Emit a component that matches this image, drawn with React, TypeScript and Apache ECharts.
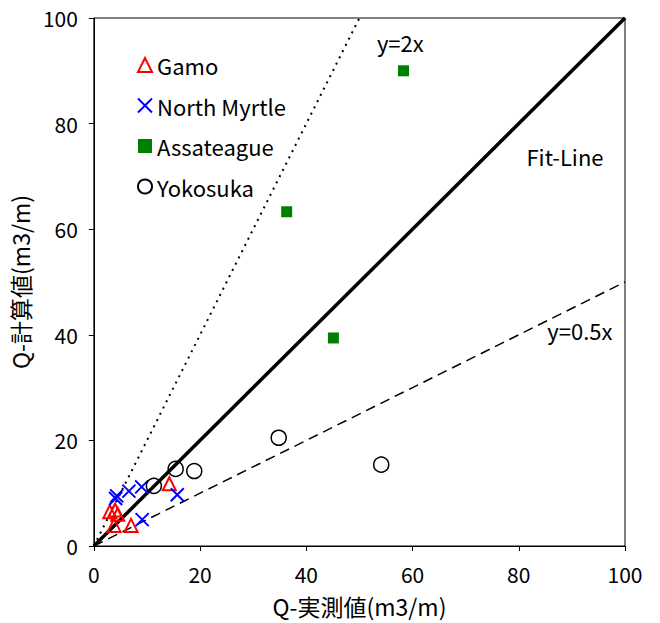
import React, { useEffect, useRef } from "react";
import * as echarts from "echarts";

const FONT = "'Noto Sans CJK JP', 'Noto Sans', sans-serif";

const gamo: number[][] = [
  [3.0, 6.5], [4.0, 6.8], [4.5, 6.0], [3.8, 3.9], [7.0, 3.9], [14.2, 11.8],
];
const northMyrtle: number[][] = [
  [4.1, 9.0], [4.3, 9.5], [6.6, 10.4], [9.0, 11.2], [15.7, 9.7], [9.1, 5.0],
];
const assateague: number[][] = [
  [58.3, 90.0], [36.3, 63.3], [45.1, 39.4],
];
const yokosuka: number[][] = [
  [34.8, 20.5], [54.1, 15.4], [15.4, 14.6], [18.9, 14.2], [11.3, 11.4],
];
const fitLine: number[][] = [[0, 0], [100, 100]];
const line2x: number[][] = [[0, 0], [50, 100]];
const lineHalf: number[][] = [[0, 0], [100, 50]];
const annotations: (number | string)[][] = [
  [57.7, 95.5, "y=2x"],
  [88.7, 73.8, "Fit-Line"],
  [91.5, 41, "y=0.5x"],
];
const axisTicks = { min: 0, max: 100, interval: 20 };

export default function App() {
  const ref = useRef<HTMLDivElement>(null);
  useEffect(() => {
    document.body.style.margin = "0";
    const chart = echarts.init(ref.current!, null, { renderer: "svg" });
    const axisCommon = {
      type: "value",
      min: axisTicks.min,
      max: axisTicks.max,
      interval: axisTicks.interval,
      nameLocation: "middle",
      nameTextStyle: { fontFamily: FONT, fontSize: 23, color: "#000", lineHeight: 24 },
      axisLine: { show: true, lineStyle: { color: "#000", width: 1 } },
      axisTick: { show: true, inside: false, length: 5, lineStyle: { color: "#000" } },
      axisLabel: { fontFamily: FONT, fontSize: 21, color: "#000", lineHeight: 22 },
      splitLine: { show: false },
    };
    chart.setOption({
      animation: false,
      backgroundColor: "#fff",
      grid: {
        left: 93, right: 35, top: 18, bottom: 74,
        show: true, borderColor: "#000", borderWidth: 1,
      },
      legend: {
        orient: "vertical",
        left: 132,
        top: 48,
        itemWidth: 14,
        itemHeight: 14,
        itemGap: 16.5,
        data: ["Gamo", "North Myrtle", "Assateague", "Yokosuka"],
        textStyle: { fontFamily: FONT, fontSize: 22, color: "#000", lineHeight: 24 },
      },
      xAxis: {
        ...axisCommon,
        name: "Q-実測値(m3/m)",
        nameGap: 48,
        axisLabel: { ...axisCommon.axisLabel, margin: 17 },
      },
      yAxis: {
        ...axisCommon,
        name: "Q-計算値(m3/m)",
        nameGap: 53,
        axisLabel: { ...axisCommon.axisLabel, margin: 16 },
      },
      series: [
        {
          type: "line", data: fitLine, symbol: "none", silent: true,
          lineStyle: { color: "#000", width: 3.5 }, z: 1,
        },
        {
          type: "line", data: line2x, symbol: "none", silent: true,
          lineStyle: { color: "#000", width: 2, type: [2, 5] }, z: 1,
        },
        {
          type: "line", data: lineHalf, symbol: "none", silent: true,
          lineStyle: { color: "#000", width: 1.5, type: [10, 6] }, z: 1,
        },
        {
          name: "Gamo", type: "scatter", data: gamo, symbol: "triangle", symbolSize: 13,
          itemStyle: { color: "rgba(0,0,0,0)", borderColor: "#ff0000", borderWidth: 2, opacity: 1 }, z: 3,
        },
        {
          name: "North Myrtle", type: "scatter", data: northMyrtle,
          symbol: "path://M0,0L10,10M10,0L0,10", symbolSize: 13,
          itemStyle: { color: "rgba(0,0,0,0)", borderColor: "#0000ff", borderWidth: 2, opacity: 1 }, z: 3,
        },
        {
          name: "Assateague", type: "scatter", data: assateague, symbol: "rect", symbolSize: 11,
          itemStyle: { color: "#008000", opacity: 1 }, z: 3,
        },
        {
          name: "Yokosuka", type: "scatter", data: yokosuka, symbol: "circle", symbolSize: 15,
          itemStyle: { color: "rgba(0,0,0,0)", borderColor: "#000", borderWidth: 1.5, opacity: 1 }, z: 3,
        },
        {
          type: "scatter", data: annotations, symbolSize: 0, silent: true, z: 4,
          itemStyle: { opacity: 1 },
          label: {
            show: true, position: "inside",
            formatter: (p: any) => p.value[2],
            fontFamily: FONT, fontSize: 22, color: "#000", opacity: 1,
          },
        },
      ],
    });
    return () => chart.dispose();
  }, []);
  return <div ref={ref} style={{ width: 660, height: 623 }} />;
}
